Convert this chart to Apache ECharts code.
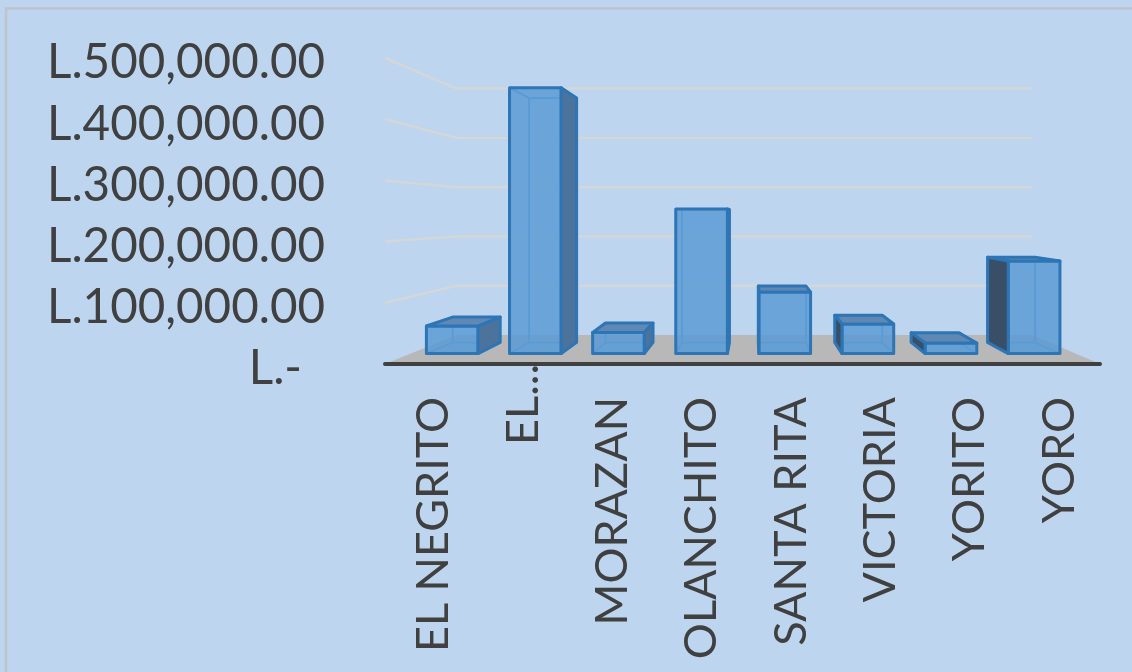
<!DOCTYPE html>
<html>
<head>
<meta charset="utf-8">
<style>
  html, body { margin: 0; padding: 0; background: #bdd5ee; }
  #chart { width: 1132px; height: 672px; }
</style>
<script src="https://cdn.jsdelivr.net/npm/echarts@6/dist/echarts.min.js"></script>
</head>
<body>
<div id="chart"></div>
<script>
// data
const categories = ['EL NEGRITO', 'EL...', 'MORAZAN', 'OLANCHITO', 'SANTA RITA', 'VICTORIA', 'YORITO', 'YORO'];
const values = [48400, 467000, 37000, 254000, 108000, 52000, 18600, 162600];
const yTicks = [0, 100000, 200000, 300000, 400000, 500000];
const yTickLabels = ['L.-', 'L.100,000.00', 'L.200,000.00', 'L.300,000.00', 'L.400,000.00', 'L.500,000.00'];

// fake 3d: everything on the axes' plane is pulled toward a vanishing point
const VP = [752, 215];
const WALL_BACK = 0.805;
const BAR_FRONT = 0.93;
const BAR_BACK = 0.855;
const BAR_WIDTH = 0.622;

const project = (p, s) => [VP[0] + (p[0] - VP[0]) * s, VP[1] + (p[1] - VP[1]) * s];

const EDGE = '#2e75b6';
const EDGE_HIDDEN = '#5b9bd5';

function face(points, fill, stroke, width) {
  return {
    type: 'polygon',
    shape: { points },
    style: { fill, stroke, lineWidth: width, lineJoin: 'round' }
  };
}

function renderFloor(params, api) {
  const c = params.coordSys;
  const l = [c.x, c.y + c.height];
  const r = [c.x + c.width, c.y + c.height];
  return face([l, r, project(r, WALL_BACK), project(l, WALL_BACK)], '#b8b8b8', null, 0);
}

function renderGridLine(params, api) {
  const c = params.coordSys;
  const y = api.coord([0, api.value(0)])[1];
  const front = [c.x, y];
  const frontR = [c.x + c.width, y];
  const a = project(front, WALL_BACK);
  const b = project(frontR, WALL_BACK);
  return {
    type: 'polyline',
    shape: { points: [front, a, b] },
    style: { fill: null, stroke: '#d4d6d8', lineWidth: 2.5 }
  };
}

function renderBar(params, api) {
  const i = api.value(0);
  const top = api.coord([i, api.value(1)]);
  const base = api.coord([i, 0]);
  const half = api.size([1, 0])[0] * BAR_WIDTH / 2;

  const corner = (x, y, s) => project([x, y], s);
  const l = base[0] - half, r = base[0] + half;

  const fbl = corner(l, base[1], BAR_FRONT), fbr = corner(r, base[1], BAR_FRONT);
  const ftl = corner(l, top[1], BAR_FRONT), ftr = corner(r, top[1], BAR_FRONT);
  const bbl = corner(l, base[1], BAR_BACK), bbr = corner(r, base[1], BAR_BACK);
  const btl = corner(l, top[1], BAR_BACK), btr = corner(r, top[1], BAR_BACK);

  const seeRight = fbr[0] < VP[0];   // left of the vanishing point we see the right side
  const seeLeft = fbl[0] > VP[0];
  const seeTop = ftl[1] > VP[1];

  const soft = 'rgba(91,155,213,0.30)';
  const children = [
    face([bbl, bbr, btr, btl], soft, EDGE_HIDDEN, 1.5),
    face([bbl, bbr, fbr, fbl], 'rgba(91,155,213,0.45)', EDGE_HIDDEN, 1.5)
  ];
  if (!seeLeft) children.push(face([fbl, bbl, btl, ftl], soft, EDGE_HIDDEN, 1.5));
  if (!seeRight) children.push(face([fbr, bbr, btr, ftr], soft, EDGE_HIDDEN, 1.5));
  if (!seeTop) children.push(face([ftl, ftr, btr, btl], soft, EDGE_HIDDEN, 1.5));

  children.push(face([fbl, fbr, ftr, ftl], 'rgba(91,155,213,0.78)', EDGE, 3));
  if (seeTop) children.push(face([ftl, ftr, btr, btl], '#5f89b4', EDGE, 3));
  if (seeLeft) children.push(face([fbl, bbl, btl, ftl], '#394f68', EDGE, 3));
  if (seeRight) children.push(face([fbr, bbr, btr, ftr], '#4c739b', EDGE, 3));

  return { type: 'group', children };
}

const chart = echarts.init(document.getElementById('chart'));

chart.setOption({
  backgroundColor: '#bdd5ee',
  animation: false,
  textStyle: { fontFamily: 'Lato' },
  grid: { left: 385, right: 32, top: 58, height: 306 },
  graphic: [{
    type: 'polyline',
    silent: true,
    shape: { points: [[6, 672], [6, 8.5], [1132, 8.5]] },
    style: { fill: null, stroke: '#bfc4c9', lineWidth: 2.5 }
  }],
  xAxis: {
    type: 'category',
    data: categories,
    z: 4,
    axisTick: { show: false },
    axisLine: { lineStyle: { color: '#404040', width: 4, cap: 'round' } },
    axisLabel: {
      interval: 0,
      rotate: 90,
      margin: 0,
      color: '#404040',
      fontSize: 45,
      // only the cut-off label runs up to the axis, the rest sit lower
      formatter: name => name === 'EL...' ? '{cut|' + name + '}' : '{pad|' + name + '}',
      rich: {
        pad: { fontSize: 45, color: '#404040', padding: [8, 33, 0, 0] },
        cut: { fontSize: 45, color: '#404040', padding: [8, 0, 0, 0] }
      }
    }
  },
  yAxis: {
    type: 'value',
    min: 0,
    max: 500000,
    interval: 100000,
    axisLine: { show: false },
    axisTick: { show: false },
    splitLine: { show: false },
    axisLabel: {
      margin: 60,
      color: '#404040',
      fontSize: 47.5,
      // the zero label is set in from the others, as in accounting format
      formatter: v => (v === 0 ? '{zero|' : '{num|') + yTickLabels[yTicks.indexOf(v)] + '}',
      rich: {
        num: { fontSize: 47.5, color: '#404040', padding: [10, 0, 0, 0] },
        zero: { fontSize: 47.5, color: '#404040', padding: [10, 23, 0, 0] }
      }
    }
  },
  series: [
    {
      type: 'custom',
      coordinateSystem: 'cartesian2d',
      renderItem: renderFloor,
      data: [[0]],
      z: 1
    },
    {
      type: 'custom',
      coordinateSystem: 'cartesian2d',
      renderItem: renderGridLine,
      data: yTicks.slice(1).map(v => [v]),
      encode: { y: 0 },
      z: 2
    },
    {
      type: 'custom',
      coordinateSystem: 'cartesian2d',
      renderItem: renderBar,
      data: values.map((v, i) => [i, v]),
      encode: { x: 0, y: 1 },
      z: 3
    }
  ]
});
</script>
</body>
</html>
